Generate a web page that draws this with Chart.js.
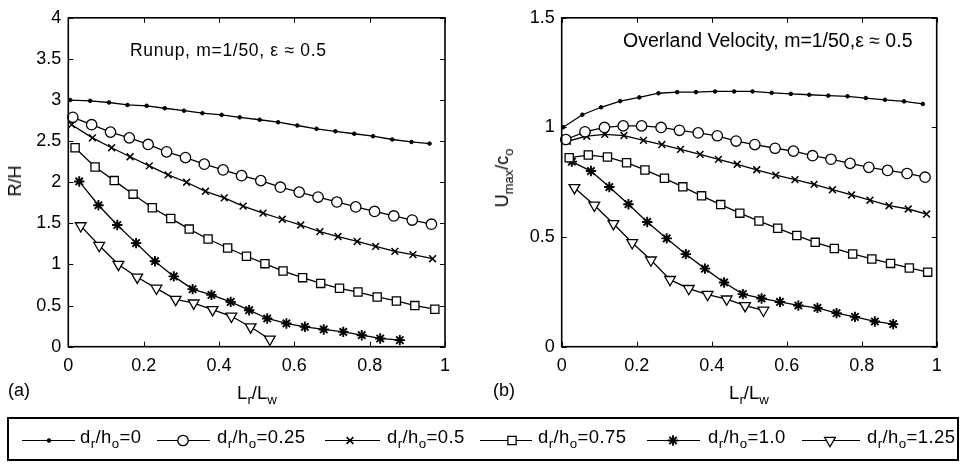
<!DOCTYPE html>
<html><head><meta charset="utf-8">
<script src="https://cdn.jsdelivr.net/npm/chart.js@4/dist/chart.umd.min.js"></script>
<style>
html,body{margin:0;padding:0;background:#fff;}
body{width:960px;height:464px;overflow:hidden;position:relative;font-family:"Liberation Sans",Arial,Helvetica,sans-serif;color:#000;}
.cv{position:absolute;top:0;}
.t{position:absolute;white-space:nowrap;line-height:1;font-size:17px;}
.rot{transform:translate(-50%,-50%) rotate(-90deg);}
.s{font-size:72%;position:relative;top:0.38em;}
#legend{position:absolute;left:7px;top:417px;width:952px;height:44px;box-sizing:border-box;border:2px solid #000;}
.lg{position:absolute;top:0;}
</style></head>
<body>
<canvas id="ca" class="cv" style="left:0;width:480px;height:464px" width="480" height="464"></canvas>
<canvas id="cb" class="cv" style="left:480px;width:480px;height:464px" width="480" height="464"></canvas>

<div class="t rot" style="left:15px;top:181px;font-size:18px;">R/H</div>
<div class="t rot" style="left:502px;top:178px;font-size:18px;">U<span class="s">max</span>/c<span class="s">o</span></div>
<div class="t" style="left:257px;top:384px;transform:translateX(-50%);font-size:18.5px;">L<span class="s">r</span>/L<span class="s">w</span></div>
<div class="t" style="left:749px;top:384px;transform:translateX(-50%);font-size:18.5px;">L<span class="s">r</span>/L<span class="s">w</span></div>
<div class="t" style="left:8px;top:381px;font-size:18px;">(a)</div>
<div class="t" style="left:493px;top:381px;font-size:18px;">(b)</div>
<div class="t" style="left:130px;top:42px;font-size:17.5px;letter-spacing:0.7px;">Runup, m=1/50, ε ≈ 0.5</div>
<div class="t" style="left:623px;top:31px;font-size:19.5px;">Overland Velocity, m=1/50,ε ≈ 0.5</div>

<div id="legend"></div>

<script>
// ---------- categories / labels ----------
const seriesLabels = ["0", "0.25", "0.5", "0.75", "1.0", "1.25"];
const xTicks = [0, 0.2, 0.4, 0.6, 0.8, 1];

// ---------- panel (a): Runup R/H ----------
const xA0   = [0.005,0.058,0.108,0.157,0.208,0.256,0.307,0.356,0.407,0.455,0.508,0.557,0.608,0.659,0.709,0.759,0.809,0.860,0.911,0.959];
const yA0   = [3.00,2.99,2.97,2.94,2.93,2.90,2.87,2.84,2.82,2.79,2.76,2.73,2.69,2.65,2.62,2.59,2.56,2.52,2.49,2.47];
const xA25  = [0.012,0.062,0.112,0.162,0.212,0.261,0.311,0.361,0.411,0.460,0.511,0.563,0.613,0.663,0.713,0.763,0.813,0.864,0.913,0.964];
const yA25  = [2.79,2.70,2.61,2.54,2.46,2.37,2.30,2.22,2.15,2.08,2.02,1.94,1.88,1.82,1.76,1.70,1.645,1.59,1.54,1.49];
const xA50  = [0.009,0.064,0.115,0.164,0.215,0.265,0.314,0.364,0.414,0.464,0.517,0.568,0.617,0.668,0.716,0.767,0.816,0.867,0.915,0.967];
const yA50  = [2.70,2.54,2.42,2.31,2.20,2.09,2.00,1.89,1.81,1.71,1.625,1.55,1.48,1.40,1.34,1.28,1.22,1.16,1.12,1.07];
const xA75  = [0.018,0.071,0.122,0.172,0.223,0.272,0.321,0.371,0.423,0.473,0.522,0.570,0.622,0.670,0.720,0.769,0.820,0.871,0.920,0.973];
const yA75  = [2.42,2.185,2.02,1.855,1.69,1.56,1.43,1.31,1.20,1.10,1.01,0.92,0.84,0.77,0.71,0.665,0.605,0.556,0.50,0.456];
const xA100 = [0.029,0.080,0.130,0.180,0.230,0.280,0.330,0.380,0.431,0.480,0.528,0.579,0.628,0.678,0.730,0.779,0.828,0.880];
const yA100 = [2.01,1.72,1.48,1.26,1.04,0.855,0.70,0.63,0.545,0.444,0.343,0.283,0.242,0.21,0.18,0.14,0.10,0.08];
const xA125 = [0.033,0.082,0.133,0.183,0.234,0.285,0.333,0.383,0.433,0.484,0.535];
const yA125 = [1.47,1.23,1.00,0.845,0.71,0.575,0.53,0.45,0.37,0.24,0.09];
const yTicksA = [0, 0.5, 1, 1.5, 2, 2.5, 3, 3.5, 4];

// ---------- panel (b): Overland velocity Umax/co ----------
const xB0   = [0.004,0.055,0.105,0.156,0.207,0.258,0.308,0.358,0.409,0.460,0.509,0.560,0.611,0.660,0.711,0.762,0.811,0.862,0.913,0.963];
const yB0   = [1.001,1.058,1.092,1.12,1.137,1.156,1.161,1.161,1.164,1.164,1.164,1.158,1.153,1.149,1.145,1.142,1.134,1.126,1.119,1.107];
const xB25  = [0.011,0.062,0.114,0.164,0.213,0.265,0.314,0.364,0.415,0.465,0.515,0.569,0.618,0.669,0.718,0.769,0.819,0.869,0.921,0.969];
const yB25  = [0.945,0.98,1.0,1.007,1.007,1.0,0.987,0.975,0.962,0.938,0.922,0.905,0.892,0.871,0.855,0.836,0.818,0.804,0.79,0.773];
const xB50  = [0.015,0.067,0.115,0.166,0.218,0.267,0.317,0.369,0.418,0.468,0.520,0.571,0.622,0.673,0.722,0.773,0.822,0.873,0.924,0.973];
const yB50  = [0.937,0.96,0.968,0.963,0.941,0.922,0.90,0.877,0.854,0.832,0.807,0.782,0.762,0.74,0.716,0.692,0.668,0.643,0.628,0.605];
const xB75  = [0.020,0.071,0.122,0.173,0.222,0.274,0.323,0.373,0.424,0.475,0.526,0.576,0.627,0.676,0.727,0.776,0.827,0.877,0.927,0.976];
const yB75  = [0.862,0.874,0.865,0.839,0.806,0.768,0.729,0.688,0.648,0.609,0.573,0.54,0.507,0.476,0.448,0.423,0.40,0.38,0.359,0.34];
const xB100 = [0.027,0.078,0.127,0.178,0.228,0.280,0.331,0.382,0.433,0.483,0.533,0.582,0.631,0.682,0.733,0.782,0.835,0.884];
const yB100 = [0.844,0.801,0.728,0.65,0.569,0.494,0.422,0.356,0.293,0.24,0.22,0.204,0.188,0.177,0.153,0.136,0.115,0.103];
const xB125 = [0.034,0.087,0.138,0.188,0.238,0.289,0.339,0.389,0.440,0.489,0.538];
const yB125 = [0.725,0.645,0.561,0.474,0.395,0.306,0.265,0.238,0.217,0.187,0.166];
const yTicksB = [0, 0.5, 1, 1.5];

// ---------- marker styles ----------
const markers = [
  {pointStyle:'circle',   radius:1.8, bg:'#000', bw:1,   rot:0},
  {pointStyle:'circle',   radius:5.2, bg:'#fff', bw:1.3, rot:0},
  {pointStyle:'crossRot', radius:4.8, bg:'#fff', bw:1.5, rot:0},
  {pointStyle:'rect',     radius:5.8, bg:'#fff', bw:1.3, rot:0},
  {pointStyle:'star',     radius:5.2, bg:'#fff', bw:1.9, rot:0},
  {pointStyle:'triangle', radius:6.2, bg:'#fff', bw:1.3, rot:180}
];

function pts(xs, ys){ return xs.map((x,i)=>({x:x, y:ys[i]})); }
function makeSets(list){
  return list.map((p,i)=>({
    label: 'dr/ho=' + seriesLabels[i],
    data: pts(p[0], p[1]),
    borderColor:'#000', borderWidth:1.3, tension:0, fill:false, clip:false,
    pointStyle: markers[i].pointStyle, pointRadius: markers[i].radius,
    pointBackgroundColor: markers[i].bg, pointBorderColor:'#000',
    pointBorderWidth: markers[i].bw, pointRotation: markers[i].rot,
    pointHoverRadius: markers[i].radius
  }));
}

const frame = {
  id:'frame',
  afterDraw(chart){
    const {ctx, chartArea:a, scales} = chart;
    ctx.save();
    ctx.strokeStyle = '#000';
    ctx.lineWidth = 1;
    const L = 5;
    ctx.beginPath();
    scales.x.ticks.forEach(t=>{
      const p = Math.round(scales.x.getPixelForValue(t.value))+0.5;
      ctx.moveTo(p, a.bottom); ctx.lineTo(p, a.bottom-L);
      ctx.moveTo(p, a.top);    ctx.lineTo(p, a.top+L);
    });
    scales.y.ticks.forEach(t=>{
      const p = Math.round(scales.y.getPixelForValue(t.value))+0.5;
      ctx.moveTo(a.left, p);  ctx.lineTo(a.left+L, p);
      ctx.moveTo(a.right, p); ctx.lineTo(a.right-L, p);
    });
    ctx.stroke();
    ctx.lineWidth = 1.6;
    ctx.strokeRect(a.left, a.top, a.right-a.left, a.bottom-a.top);
    ctx.restore();
  }
};

function fmt(v){ return String(Math.round(v*100)/100); }

function makeChart(id, sets, yMax, yTicks, yWidth, padRight){
  const tickFont = {family:'"Liberation Sans", Arial, sans-serif', size:18};
  return new Chart(document.getElementById(id), {
    type:'line',
    data:{ datasets: sets },
    options:{
      responsive:false, animation:false, events:[],
      layout:{ padding:{ left:0, right:padRight, top:15, bottom:87.3 } },
      plugins:{ legend:{display:false}, tooltip:{enabled:false} },
      scales:{
        x:{
          type:'linear', min:0, max:1,
          afterBuildTicks(s){ s.ticks = xTicks.map(v=>({value:v})); },
          afterFit(s){ s.height = 30; },
          grid:{ display:false, drawTicks:false }, border:{display:false},
          ticks:{ color:'#000', font:tickFont, padding:9, maxRotation:0, autoSkip:false, callback:(v)=>fmt(v) }
        },
        y:{
          type:'linear', min:0, max:yMax,
          afterBuildTicks(s){ s.ticks = yTicks.map(v=>({value:v})); },
          afterFit(s){ s.width = yWidth; },
          grid:{ display:false, drawTicks:false }, border:{display:false},
          ticks:{ color:'#000', font:tickFont, padding:7, autoSkip:false, callback:(v)=>fmt(v) }
        }
      }
    },
    plugins:[frame]
  });
}

makeChart('ca', makeSets([[xA0,yA0],[xA25,yA25],[xA50,yA50],[xA75,yA75],[xA100,yA100],[xA125,yA125]]), 4, yTicksA, 68.3, 35);
makeChart('cb', makeSets([[xB0,yB0],[xB25,yB25],[xB50,yB50],[xB75,yB75],[xB100,yB100],[xB125,yB125]]), 1.5, yTicksB, 81.7, 23.3);

// ---------- legend ----------
const legendItems = [
  {lineX:[22,75],  mark:49,  textX:80},
  {lineX:[157,210],mark:183, textX:217},
  {lineX:[325,380],mark:350, textX:387},
  {lineX:[480,532],mark:512, textX:538},
  {lineX:[647,700],mark:673, textX:708},
  {lineX:[802,860],mark:830, textX:867}
];
const lg = document.getElementById('legend');
const lc = document.createElement('canvas');
lc.width = 952; lc.height = 44; lc.className = 'lg';
lc.style.left = '-2px'; lc.style.top = '-2px';
lg.appendChild(lc);
const g = lc.getContext('2d');
const offX = 7, offY = 417, cy = 440 - offY;
legendItems.forEach((it,i)=>{
  g.strokeStyle = '#000'; g.lineWidth = 1;
  g.beginPath(); g.moveTo(it.lineX[0]-offX, cy+0.5); g.lineTo(it.lineX[1]-offX, cy+0.5); g.stroke();
  const m = markers[i];
  const opts = {pointStyle:m.pointStyle, radius:m.radius, rotation:m.rot, borderWidth:m.bw};
  g.fillStyle = m.bg; g.strokeStyle = '#000'; g.lineWidth = m.bw;
  Chart.helpers.drawPoint(g, opts, it.mark-offX, cy+0.5);
  const d = document.createElement('div');
  d.className = 't';
  d.style.fontSize = '18.5px';
  d.style.letterSpacing = '0.4px';
  d.style.left = (it.textX-offX-2)+'px';
  d.style.top = (428-offY-2)+'px';
  d.innerHTML = 'd<span class="s">r</span>/h<span class="s">o</span>=' + seriesLabels[i];
  lg.appendChild(d);
});
</script>
</body></html>
